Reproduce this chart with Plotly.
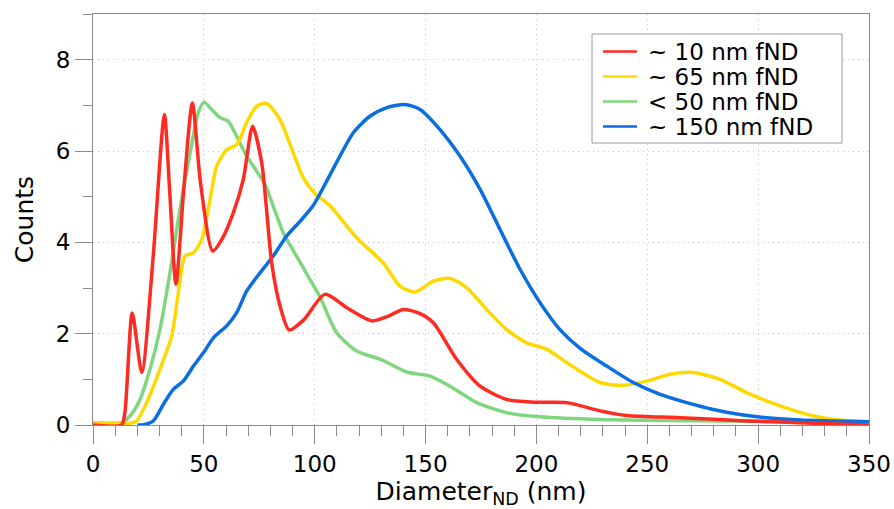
import plotly.graph_objects as go

# Size distributions of fluorescent nanodiamonds (counts vs. diameter in nm)
x_10nm = [0, 12.9, 14.4, 17.7, 22.0, 27.0, 32.2, 34.5, 37.4, 41.0, 44.8, 48.5, 54.0, 58.5,
          63.3, 67.8, 72.0, 76.1, 80.6, 84.4, 88.5, 95.0, 104.6, 115.0, 125.7, 133.0,
          140.0, 147.0, 153.5, 164.0, 174.6, 186.6, 198.6, 213.6, 228.7, 240.7, 264.8,
          294.8, 324.8, 350]
y_10nm = [0.0, 0.0, 0.28, 2.45, 1.15, 3.6, 6.8, 5.2, 3.08, 5.2, 7.05, 5.3, 3.81, 4.1,
          4.65, 5.38, 6.54, 5.74, 3.55, 2.6, 2.08, 2.3, 2.86, 2.55, 2.28, 2.38,
          2.53, 2.45, 2.24, 1.44, 0.85, 0.56, 0.5, 0.49, 0.31, 0.21, 0.16,
          0.09, 0.04, 0.0]

x_65nm = [0, 18.0, 19.7, 24.2, 30.2, 35.5, 38.5, 41.5, 45.3, 49.0, 52.8, 55.8, 60.3, 64.8,
          69.3, 73.8, 78.3, 84.3, 90.3, 94.9, 100.1, 106.9, 118.9, 130.9, 138.5,
          145.2, 153.5, 161.0, 168.5, 177.5, 186.6, 195.6, 204.6, 213.6, 228.7,
          239.2, 249.7, 260.3, 270.8, 282.8, 294.8, 309.9, 324.9, 336.9, 350]
y_65nm = [0.05, 0.05, 0.09, 0.49, 1.22, 1.95, 2.9, 3.7, 3.77, 4.06, 4.94, 5.67, 6.03, 6.14,
          6.62, 6.98, 7.04, 6.69, 5.96, 5.41, 5.07, 4.8, 4.1, 3.55, 3.04,
          2.91, 3.15, 3.21, 3.01, 2.53, 2.09, 1.8, 1.66, 1.37, 0.93,
          0.87, 0.96, 1.11, 1.15, 1.0, 0.71, 0.42, 0.2, 0.11, 0.07]

x_50nm = [0, 13.0, 16.7, 21.2, 25.7, 30.2, 34.7, 39.2, 43.8, 47.5, 50.1, 53.5, 57.3, 61.0,
          64.8, 69.3, 73.8, 77.6, 81.3, 85.8, 91.8, 97.8, 102.4, 109.9, 118.9,
          129.5, 141.5, 152.0, 161.0, 173.1, 186.6, 201.6, 228.7, 280.0, 350]
y_50nm = [0.05, 0.05, 0.2, 0.56, 1.22, 2.09, 3.33, 4.72, 5.96, 6.84, 7.07, 6.91, 6.73, 6.65,
          6.32, 5.89, 5.56, 5.27, 4.79, 4.21, 3.7, 3.19, 2.8, 2.02, 1.62,
          1.44, 1.16, 1.07, 0.85, 0.49, 0.27, 0.18, 0.12, 0.09, 0.07]

x_150nm = [20.0, 22.0, 27.2, 31.7, 36.2, 40.7, 45.3, 49.8, 54.3, 60.3, 64.8, 69.3, 75.3,
           81.3, 87.4, 93.4, 99.4, 105.4, 111.4, 117.4, 124.9, 132.5, 140.5, 147.5,
           156.5, 165.5, 174.6, 183.6, 192.6, 201.6, 210.6, 219.7, 231.7, 243.7,
           255.8, 267.8, 279.8, 291.8, 303.9, 318.9, 333.8, 350]
y_150nm = [0.0, 0.0, 0.09, 0.45, 0.78, 0.96, 1.29, 1.58, 1.91, 2.17, 2.46, 2.93, 3.33,
           3.7, 4.14, 4.46, 4.81, 5.34, 5.89, 6.4, 6.76, 6.95, 7.02, 6.91,
           6.47, 5.89, 5.16, 4.28, 3.41, 2.68, 2.09, 1.68, 1.29, 0.93,
           0.67, 0.49, 0.34, 0.23, 0.16, 0.11, 0.09, 0.07]

names = ["~ 10 nm fND", "~ 65 nm fND", "< 50 nm fND", "~ 150 nm fND"]
colors = ["#ff2a22", "#ffd800", "#7fd67f", "#0a6ee0"]
xs = [x_10nm, x_65nm, x_50nm, x_150nm]
ys = [y_10nm, y_65nm, y_50nm, y_150nm]

x_ticks = [0, 50, 100, 150, 200, 250, 300, 350]
y_ticks = [0, 2, 4, 6, 8]

FONT = "DejaVu Sans, Liberation Sans, Arial, sans-serif"
AXIS_GREY = "#8c8c8c"
GRID_GREY = "#c4c4c4"

W, H = 894, 509
M_L, M_R, M_T, M_B = 93, 25, 14, 84
PW, PH = W - M_L - M_R, H - M_T - M_B


def px_to_paper(px, py):
    return (px - M_L) / PW, (H - M_B - py) / PH


fig = go.Figure()
# draw order: green under the others, then yellow, blue, red on top
for i in [2, 1, 3, 0]:
    fig.add_trace(go.Scatter(
        x=xs[i], y=ys[i], name=names[i], mode="lines",
        line=dict(color=colors[i], width=3.5, shape="spline", smoothing=0.7),
        showlegend=False,
    ))

# boxed legend with tight row spacing
shapes = []
annotations = []
bx0, by0 = px_to_paper(592, 34)
bx1, by1 = px_to_paper(842, 143)
shapes.append(dict(type="rect", xref="paper", yref="paper", x0=bx0, y0=by1, x1=bx1, y1=by0,
                   line=dict(color="#9a9a9a", width=1), fillcolor="white", layer="above"))
for k, (name, color) in enumerate(zip(names, colors)):
    row_y = 51.5 + 25 * k
    lx0, ly = px_to_paper(603, row_y)
    lx1, _ = px_to_paper(637, row_y)
    shapes.append(dict(type="line", xref="paper", yref="paper", x0=lx0, x1=lx1, y0=ly, y1=ly,
                       line=dict(color=color, width=2.5), layer="above"))
    tx, _ = px_to_paper(646, row_y)
    annotations.append(dict(xref="paper", yref="paper", x=tx, y=ly, xanchor="left",
                            yanchor="middle", text=name, showarrow=False,
                            font=dict(size=23, color="black")))

fig.update_layout(
    width=W, height=H,
    margin=dict(l=M_L, r=M_R, t=M_T, b=M_B),
    plot_bgcolor="white", paper_bgcolor="white",
    font=dict(family=FONT, size=23, color="black"),
    showlegend=False,
    shapes=shapes, annotations=annotations,
)

fig.update_xaxes(
    range=[0, 350], tickvals=x_ticks, ticktext=[str(v) for v in x_ticks],
    showline=True, linecolor=AXIS_GREY, linewidth=1.2, mirror=True,
    ticks="outside", ticklen=18, tickcolor=AXIS_GREY, tickwidth=1.2,
    minor=dict(dtick=10, ticks="outside", ticklen=10, tickcolor=AXIS_GREY,
               tickwidth=1.2, showgrid=False),
    showgrid=True, gridcolor=GRID_GREY, griddash="1px,4px", gridwidth=1,
    zeroline=False, tickfont=dict(size=23), automargin=False,
    title=dict(text="Diameter<sub>ND</sub> (nm)", font=dict(size=25), standoff=2),
)
fig.update_yaxes(
    range=[0, 9], tickvals=y_ticks, ticktext=[str(v) for v in y_ticks],
    showline=True, linecolor=AXIS_GREY, linewidth=1.2, mirror=True,
    ticks="outside", ticklen=17, tickcolor=AXIS_GREY, tickwidth=1.2,
    minor=dict(dtick=1, ticks="outside", ticklen=9, tickcolor=AXIS_GREY,
               tickwidth=1.2, showgrid=False),
    showgrid=True, gridcolor=GRID_GREY, griddash="1px,4px", gridwidth=1,
    zeroline=False, tickfont=dict(size=23), automargin=False,
    title=dict(text="Counts", font=dict(size=25), standoff=14),
)

fig.write_html("out.html")
